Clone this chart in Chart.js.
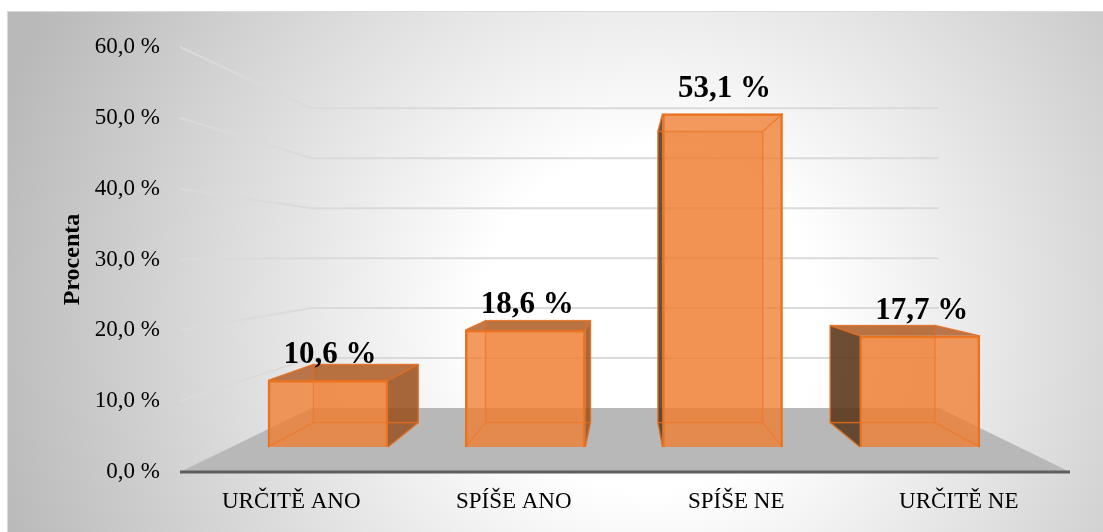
<!DOCTYPE html>
<html>
<head>
<meta charset="utf-8">
<script src="https://cdn.jsdelivr.net/npm/chart.js@4.4.0/dist/chart.umd.min.js"></script>
<style>
    html, body { margin: 0; padding: 0; background: #fff; }
    #wrap { width: 1103px; height: 532px; }
</style>
</head>
<body>
<div id="wrap"><canvas id="chart"></canvas></div>
<script>
const categories = ['URČITĚ ANO', 'SPÍŠE ANO', 'SPÍŠE NE', 'URČITĚ NE'];
const values = [10.6, 18.6, 53.1, 17.7];
const yTicks = [0, 10, 20, 30, 40, 50, 60];
const axisTitle = 'Procenta';

const SERIF = '"Liberation Serif", "Times New Roman", serif';
const fmt = v => v.toFixed(1).replace('.', ',') + ' %';

// -- fake 3D: vanishing point and depth factors --
const VP = { x: 626, y: 255 };
const WALL_DEPTH = 0.705;
const BAR_DEPTH = 0.873;

function proj(x, y, k) {
    return [VP.x + (x - VP.x) * k, VP.y + (y - VP.y) * k];
}

function poly(ctx, pts) {
    ctx.beginPath();
    ctx.moveTo(pts[0][0], pts[0][1]);
    for (let i = 1; i < pts.length; i++) ctx.lineTo(pts[i][0], pts[i][1]);
    ctx.closePath();
}

const backdrop = {
    id: 'backdrop',
    beforeDraw(chart) {
        const { ctx, width: w, height: h } = chart;
        ctx.save();
        ctx.fillStyle = '#fff';
        ctx.fillRect(0, 0, w, h);
        const g = ctx.createRadialGradient(650, 320, 0, 650, 320, 680);
        g.addColorStop(0, '#ffffff');
        g.addColorStop(0.25, '#ffffff');
        g.addColorStop(1, '#b9b9b9');
        ctx.fillStyle = g;
        ctx.fillRect(7, 11, w - 7, h - 11);
        ctx.strokeStyle = '#d9d9d9';
        ctx.lineWidth = 1;
        ctx.strokeRect(7.5, 11.5, w, h);
        ctx.restore();
    },
    beforeDatasetsDraw(chart) {
        const { ctx, chartArea: a } = chart;
        const y = chart.scales.y;
        ctx.save();

        // floor
        const [bl, bb] = proj(a.left, a.bottom, WALL_DEPTH);
        const [br] = proj(a.right, a.bottom, WALL_DEPTH);
        ctx.fillStyle = '#b8b8b8';
        poly(ctx, [[a.left, a.bottom], [a.right, a.bottom], [br, bb], [bl, bb]]);
        ctx.fill();

        // side + back wall gridlines
        ctx.strokeStyle = '#dadada';
        ctx.lineWidth = 2;
        yTicks.slice(1).forEach(v => {
            const fy = y.getPixelForValue(v);
            const [cx, cy] = proj(a.left, fy, WALL_DEPTH);
            const [rx] = proj(a.right, fy, WALL_DEPTH);
            ctx.beginPath();
            ctx.moveTo(a.left, fy);
            ctx.lineTo(cx, cy);
            ctx.lineTo(rx, cy);
            ctx.stroke();
        });

        // front edge of floor
        ctx.strokeStyle = '#5e5e5e';
        ctx.lineWidth = 3;
        ctx.beginPath();
        ctx.moveTo(a.left, a.bottom);
        ctx.lineTo(a.right, a.bottom);
        ctx.stroke();

        // back, side and top faces of each bar
        chart.getDatasetMeta(0).data.forEach(bar => {
            const p = bar.getProps(['x', 'y', 'base', 'width'], true);
            const L = p.x - p.width / 2, R = p.x + p.width / 2, T = p.y, B = p.base;
            const [L2, T2] = proj(L, T, BAR_DEPTH);
            const [R2, B2] = proj(R, B, BAR_DEPTH);

            ctx.fillStyle = 'rgba(230,115,40,0.25)';
            ctx.fillRect(L2, T2, R2 - L2, B2 - T2);

            if (R < VP.x) {
                ctx.fillStyle = 'rgba(150,78,28,0.82)';
                poly(ctx, [[R, T], [R2, T2], [R2, B2], [R, B]]);
                ctx.fill();
            }
            if (L > VP.x) {
                ctx.fillStyle = 'rgba(85,52,26,0.85)';
                poly(ctx, [[L, T], [L2, T2], [L2, B2], [L, B]]);
                ctx.fill();
            }
            if (T > VP.y) {
                ctx.fillStyle = 'rgba(172,92,38,0.82)';
                poly(ctx, [[L, T], [R, T], [R2, T2], [L2, T2]]);
                ctx.fill();
            }

            ctx.strokeStyle = 'rgba(228,108,30,0.85)';
            ctx.lineWidth = 1.5;
            ctx.strokeRect(L2, T2, R2 - L2, B2 - T2);
            ctx.beginPath();
            [[L, T, L2, T2], [R, T, R2, T2], [L, B, L2, B2], [R, B, R2, B2]].forEach(s => {
                ctx.moveTo(s[0], s[1]);
                ctx.lineTo(s[2], s[3]);
            });
            ctx.stroke();
        });
        ctx.restore();
    }
};

const valueLabels = {
    id: 'valueLabels',
    afterDatasetsDraw(chart) {
        const ctx = chart.ctx;
        ctx.save();
        ctx.font = 'bold 31px ' + SERIF;
        ctx.fillStyle = '#000';
        ctx.textAlign = 'center';
        ctx.textBaseline = 'alphabetic';
        chart.getDatasetMeta(0).data.forEach((bar, i) => {
            ctx.fillText(fmt(values[i]), bar.x + 2, bar.y - 17);
        });
        ctx.restore();
    }
};

new Chart(document.getElementById('chart'), {
    type: 'bar',
    data: {
        labels: categories,
        datasets: [{
            data: values.map((v, i) => ({ x: i, y: v })),
            xAxisID: 'xb',
            yAxisID: 'yb',
            backgroundColor: 'rgba(240,125,50,0.78)',
            borderColor: '#e8721f',
            borderWidth: 2,
            barThickness: 120
        }]
    },
    options: {
        responsive: true,
        maintainAspectRatio: false,
        animation: false,
        layout: { padding: { top: 47, right: 33, left: 0, bottom: 0 } },
        plugins: { legend: { display: false }, tooltip: { enabled: false } },
        scales: {
            x: {
                type: 'category',
                position: 'bottom',
                offset: true,
                grid: { display: false, drawTicks: false },
                border: { display: false },
                ticks: { padding: 16, color: '#000', font: { family: SERIF, size: 23 }, maxRotation: 0, autoSkip: false },
                afterFit: s => { s.height = 60; }
            },
            y: {
                type: 'linear',
                position: 'left',
                min: 0,
                max: 60,
                afterBuildTicks: s => { s.ticks = yTicks.map(v => ({ value: v })); },
                grid: { display: false, drawTicks: false },
                border: { display: false },
                ticks: { padding: 20, color: '#000', font: { family: SERIF, size: 23 }, callback: v => fmt(v) },
                title: {
                    display: true, text: axisTitle, color: '#000',
                    font: { family: SERIF, size: 24, weight: 'bold' },
                    padding: { top: 58, bottom: 0 }
                },
                afterFit: s => { s.width = 180; }
            },
            // hidden scales for the bar fronts (they sit deeper than the axis plane)
            xb: { type: 'linear', display: false, offset: false, min: -0.75, max: 3.761 },
            yb: { type: 'linear', display: false, min: -3.98, max: 63.7 }
        }
    },
    plugins: [backdrop, valueLabels]
});
</script>
</body>
</html>
